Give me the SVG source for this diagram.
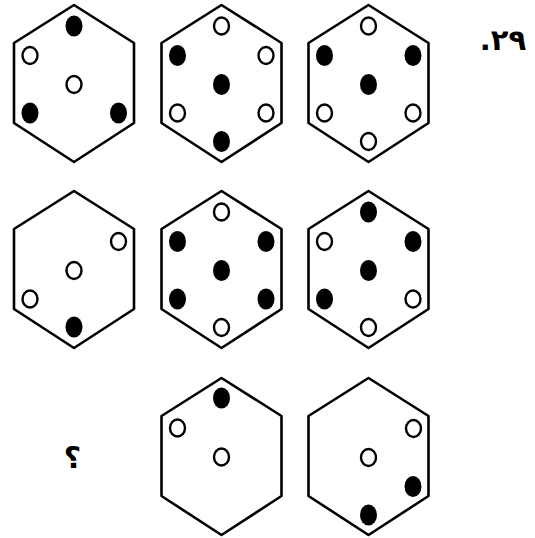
<svg xmlns="http://www.w3.org/2000/svg" xmlns:xlink="http://www.w3.org/1999/xlink" width="535" height="538" viewBox="0 0 535 538">
<style>
.hex{fill:none;stroke:#000;stroke-width:2.6;stroke-linejoin:round}
.f{fill:#000}
.o{fill:#fff;stroke:#000;stroke-width:2.4}
.lbl{font-family:"DejaVu Sans","Noto Sans",sans-serif;font-weight:bold;fill:#000}
</style>
<defs>
<polygon id="hexshape" class="hex" points="0,0 -60,38 -60,118 0,157 60,118 60,38"/>
</defs>
<rect width="535" height="538" fill="#fff"/>

<g id="r1c1" transform="translate(74,5)">
<use xlink:href="#hexshape" href="#hexshape"/>
<ellipse class="f" cx="0" cy="21" rx="8.5" ry="10.5"/>
<ellipse class="o" cx="-44" cy="50.5" rx="7.5" ry="8.5"/>
<ellipse class="o" cx="0" cy="79.5" rx="7.5" ry="8.5"/>
<ellipse class="f" cx="-44" cy="108" rx="8.5" ry="10.5"/>
<ellipse class="f" cx="44.5" cy="108" rx="8.5" ry="10.5"/>
</g>

<g id="r1c2" transform="translate(221.5,5)">
<use xlink:href="#hexshape" href="#hexshape"/>
<ellipse class="o" cx="0" cy="21" rx="7.5" ry="8.5"/>
<ellipse class="f" cx="-44" cy="50.5" rx="8.5" ry="10.5"/>
<ellipse class="o" cx="44.5" cy="50.5" rx="7.5" ry="8.5"/>
<ellipse class="f" cx="0" cy="79.5" rx="8.5" ry="10.5"/>
<ellipse class="o" cx="-44" cy="108" rx="7.5" ry="8.5"/>
<ellipse class="o" cx="44.5" cy="108" rx="7.5" ry="8.5"/>
<ellipse class="f" cx="0" cy="136.5" rx="8.5" ry="10.5"/>
</g>

<g id="r1c3" transform="translate(368.5,5)">
<use xlink:href="#hexshape" href="#hexshape"/>
<ellipse class="o" cx="0" cy="21" rx="7.5" ry="8.5"/>
<ellipse class="f" cx="-44" cy="50.5" rx="8.5" ry="10.5"/>
<ellipse class="f" cx="44.5" cy="50.5" rx="8.5" ry="10.5"/>
<ellipse class="f" cx="0" cy="79.5" rx="8.5" ry="10.5"/>
<ellipse class="o" cx="-44" cy="108" rx="7.5" ry="8.5"/>
<ellipse class="o" cx="44.5" cy="108" rx="7.5" ry="8.5"/>
<ellipse class="o" cx="0" cy="136.5" rx="7.5" ry="8.5"/>
</g>

<g id="r2c1" transform="translate(74,191)">
<use xlink:href="#hexshape" href="#hexshape"/>
<ellipse class="o" cx="44.5" cy="50.5" rx="7.5" ry="8.5"/>
<ellipse class="o" cx="0" cy="79.5" rx="7.5" ry="8.5"/>
<ellipse class="o" cx="-44" cy="108" rx="7.5" ry="8.5"/>
<ellipse class="f" cx="0" cy="136" rx="8.5" ry="10.5"/>
</g>

<g id="r2c2" transform="translate(221.5,191)">
<use xlink:href="#hexshape" href="#hexshape"/>
<ellipse class="o" cx="0" cy="21" rx="7.5" ry="8.5"/>
<ellipse class="f" cx="-44" cy="50.5" rx="8.5" ry="10.5"/>
<ellipse class="f" cx="44.5" cy="50.5" rx="8.5" ry="10.5"/>
<ellipse class="f" cx="0" cy="79.5" rx="8.5" ry="10.5"/>
<ellipse class="f" cx="-44" cy="108" rx="8.5" ry="10.5"/>
<ellipse class="f" cx="44.5" cy="108" rx="8.5" ry="10.5"/>
<ellipse class="o" cx="0" cy="136.5" rx="7.5" ry="8.5"/>
</g>

<g id="r2c3" transform="translate(368.5,191)">
<use xlink:href="#hexshape" href="#hexshape"/>
<ellipse class="f" cx="0" cy="21" rx="8.5" ry="10.5"/>
<ellipse class="o" cx="-44" cy="50.5" rx="7.5" ry="8.5"/>
<ellipse class="f" cx="44.5" cy="50.5" rx="8.5" ry="10.5"/>
<ellipse class="f" cx="0" cy="79.5" rx="8.5" ry="10.5"/>
<ellipse class="f" cx="-44" cy="108" rx="8.5" ry="10.5"/>
<ellipse class="o" cx="44.5" cy="108" rx="7.5" ry="8.5"/>
<ellipse class="o" cx="0" cy="136.5" rx="7.5" ry="8.5"/>
</g>

<g id="r3c2" transform="translate(221.5,378)">
<use xlink:href="#hexshape" href="#hexshape"/>
<ellipse class="f" cx="0" cy="20" rx="8.5" ry="10.5"/>
<ellipse class="o" cx="-44" cy="50" rx="7.5" ry="8.5"/>
<ellipse class="o" cx="0" cy="79" rx="7.5" ry="8.5"/>
</g>

<g id="r3c3" transform="translate(368.5,378)">
<use xlink:href="#hexshape" href="#hexshape"/>
<ellipse class="o" cx="45" cy="50.5" rx="7.5" ry="8.5"/>
<ellipse class="o" cx="0" cy="79.5" rx="7.5" ry="8.5"/>
<ellipse class="f" cx="44.5" cy="108.5" rx="8.5" ry="10.5"/>
<ellipse class="f" cx="0" cy="137" rx="8.5" ry="10.5"/>
</g>

<g id="labels">
<text class="lbl" x="503" y="50" font-size="29" letter-spacing="2" text-anchor="middle" direction="rtl">۲۹.</text>
<text class="lbl" x="72.5" y="468" font-size="30" text-anchor="middle">؟</text>
</g>
</svg>
